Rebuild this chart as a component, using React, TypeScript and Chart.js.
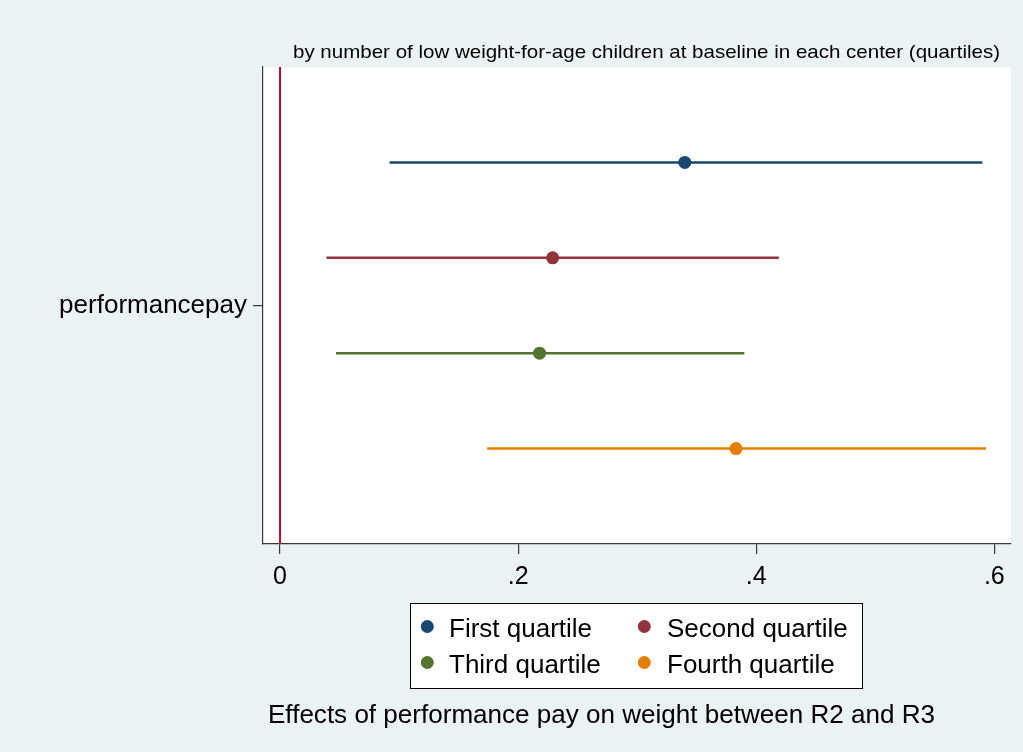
import React, { useEffect, useRef } from 'react';
import { Chart, registerables } from 'chart.js';

Chart.register(...registerables);

const CATEGORIES = ['First quartile', 'Second quartile', 'Third quartile', 'Fourth quartile'];
const POSITIONS = [1, 2, 3, 4];
const POINT = [0.340, 0.229, 0.218, 0.383];
const LOWER = [0.092, 0.039, 0.047, 0.174];
const UPPER = [0.590, 0.419, 0.390, 0.593];
const COLORS = ['#1a476f', '#90353b', '#55752f', '#e37e00'];
const X_TICKS = [0, 0.2, 0.4, 0.6];
const X_TICK_LABELS = ['0', '.2', '.4', '.6'];
const Y_TICKS = [2.5];
const Y_TICK_LABELS = ['performancepay'];
const REF_LINE = 0;
const SUBTITLE = 'by number of low weight-for-age children at baseline in each center (quartiles)';
const X_TITLE = 'Effects of performance pay on weight between R2 and R3';

const X_MIN = -0.0143;
const X_MAX = 0.614;
const Y_MIN = 0;
const Y_MAX = 5;

const FONT = '"Liberation Sans", Arial, Helvetica, sans-serif';
const BG = '#eaf2f3';

function fitText(ctx: CanvasRenderingContext2D, text: string, x: number, y: number, width: number, size: number) {
  ctx.save();
  ctx.font = `${size}px ${FONT}`;
  const w = ctx.measureText(text).width;
  const s = width / w;
  ctx.translate(x, y);
  ctx.scale(s, 1);
  ctx.textAlign = 'left';
  ctx.textBaseline = 'alphabetic';
  ctx.fillStyle = '#000';
  ctx.fillText(text, 0, 0);
  ctx.restore();
}

const decor = {
  id: 'decor',
  beforeDraw(chart: any) {
    const { ctx, chartArea: a } = chart;
    ctx.save();
    ctx.fillStyle = BG;
    ctx.fillRect(0, 0, chart.width, chart.height);
    ctx.fillStyle = '#ffffff';
    ctx.fillRect(a.left, a.top, a.right - a.left, a.bottom - a.top);
    ctx.restore();
  },
  afterDraw(chart: any) {
    const { ctx } = chart;
    // subtitle
    fitText(ctx, SUBTITLE, 293, 57.5, 707, 18.5);
    // legend
    ctx.save();
    ctx.fillStyle = '#ffffff';
    ctx.fillRect(410.5, 603.5, 452, 85);
    ctx.strokeStyle = '#000';
    ctx.lineWidth = 1;
    ctx.strokeRect(410.5, 603.5, 452, 85);
    const colX = [427.3, 644.3];
    const textX = [449, 667];
    const rowY = [626.5, 662.5];
    ctx.font = `26px ${FONT}`;
    ctx.textBaseline = 'alphabetic';
    ctx.textAlign = 'left';
    CATEGORIES.forEach((c, i) => {
      const col = i % 2;
      const row = Math.floor(i / 2);
      ctx.beginPath();
      ctx.fillStyle = COLORS[i];
      ctx.arc(colX[col], rowY[row], 6.5, 0, Math.PI * 2);
      ctx.fill();
      ctx.fillStyle = '#000';
      ctx.fillText(c, textX[col], rowY[row] + 10);
    });
    ctx.restore();
    // x title
    fitText(ctx, X_TITLE, 268, 722.5, 667, 26);
  },
};

export default function App() {
  const ref = useRef<HTMLCanvasElement>(null);
  useEffect(() => {
    const canvas = ref.current!;
    const datasets: any[] = [];
    CATEGORIES.forEach((c, i) => {
      datasets.push({
        type: 'scatter',
        label: c,
        data: [{ x: POINT[i], y: POSITIONS[i] }],
        backgroundColor: COLORS[i],
        borderColor: COLORS[i],
        borderWidth: 0,
        pointRadius: 6.5,
        pointHoverRadius: 6.5,
        order: 0,
      });
    });
    CATEGORIES.forEach((c, i) => {
      datasets.push({
        type: 'line',
        label: c + ' CI',
        data: [
          { x: LOWER[i], y: POSITIONS[i] },
          { x: UPPER[i], y: POSITIONS[i] },
        ],
        borderColor: COLORS[i],
        borderWidth: 2.5,
        pointRadius: 0,
        fill: false,
        order: 1,
      });
    });
    datasets.push({
      type: 'line',
      label: 'ref',
      data: [
        { x: REF_LINE, y: Y_MIN },
        { x: REF_LINE, y: Y_MAX },
      ],
      borderColor: '#c10534',
      borderWidth: 2,
      pointRadius: 0,
      fill: false,
      order: 2,
    });

    const chart = new Chart(canvas, {
      type: 'scatter',
      data: { datasets },
      plugins: [decor],
      options: {
        animation: false,
        responsive: false,
        devicePixelRatio: 1,
        layout: { padding: { top: 67, right: 12, left: 0, bottom: 0 } },
        plugins: {
          legend: { display: false },
          tooltip: { enabled: false },
          title: { display: false },
        },
        scales: {
          x: {
            type: 'linear',
            min: X_MIN,
            max: X_MAX,
            afterBuildTicks: (s: any) => {
              s.ticks = X_TICKS.map((v) => ({ value: v }));
            },
            afterFit: (s: any) => {
              s.height = 208;
            },
            ticks: {
              autoSkip: false,
              maxRotation: 0,
              padding: 8,
              color: '#000',
              font: { family: FONT, size: 25 },
              callback: (v: any) => {
                const idx = X_TICKS.findIndex((t) => Math.abs(t - v) < 1e-9);
                return idx >= 0 ? X_TICK_LABELS[idx] : '';
              },
            },
            grid: {
              drawOnChartArea: false,
              drawTicks: true,
              tickLength: 10,
              color: '#3a3a3a',
              lineWidth: 1.2,
            },
            border: { display: true, color: '#3a3a3a', width: 1.2 },
          },
          y: {
            type: 'linear',
            min: Y_MIN,
            max: Y_MAX,
            reverse: true,
            afterBuildTicks: (s: any) => {
              s.ticks = Y_TICKS.map((v) => ({ value: v }));
            },
            afterFit: (s: any) => {
              s.width = 263;
            },
            ticks: {
              autoSkip: false,
              padding: 6,
              color: '#000',
              font: { family: FONT, size: 26 },
              callback: (v: any) => {
                const idx = Y_TICKS.findIndex((t) => Math.abs(t - v) < 1e-9);
                return idx >= 0 ? Y_TICK_LABELS[idx] : '';
              },
            },
            grid: {
              drawOnChartArea: false,
              drawTicks: true,
              tickLength: 10,
              color: '#3a3a3a',
              lineWidth: 1.2,
            },
            border: { display: true, color: '#3a3a3a', width: 1.2 },
          },
        },
      } as any,
    });
    return () => chart.destroy();
  }, []);

  return (
    <div style={{ position: 'absolute', left: 0, top: 0, width: 1023, height: 752 }}>
      <canvas ref={ref} width={1023} height={752} style={{ width: 1023, height: 752, display: 'block' }} />
    </div>
  );
}
